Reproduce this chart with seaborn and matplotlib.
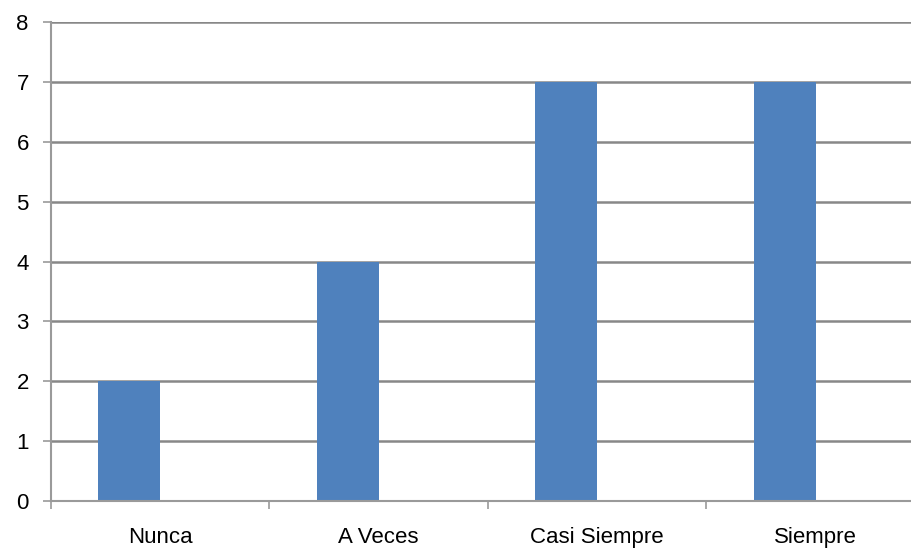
import matplotlib
matplotlib.use("Agg")
import matplotlib.pyplot as plt
import seaborn as sns
import pandas as pd
import numpy as np

categories = ["Nunca", "A Veces", "Casi Siempre", "Siempre"]
values = [2, 4, 7, 7]
series = ["Serie1", "Serie2"]
y_ticks = [0, 1, 2, 3, 4, 5, 6, 7, 8]

df = pd.DataFrame({
    "cat": categories * 2,
    "val": values + [np.nan] * len(categories),
    "serie": [series[0]] * len(categories) + [series[1]] * len(categories),
})

sns.set_style("white")
plt.rcParams["font.family"] = ["Liberation Sans", "DejaVu Sans"]

fig = plt.figure(figsize=(9.12, 5.49), dpi=100)
ax = fig.add_axes([51 / 912, 48 / 549, 874 / 912, 479 / 549])

sns.barplot(data=df, x="cat", y="val", hue="serie", order=categories,
            hue_order=series, palette=["#4F81BD", "#C0504D"], width=0.568,
            saturation=1, ax=ax, legend=False, errorbar=None, linewidth=0)

ax.set_ylim(0, 8)
ax.set_xlim(-0.5, len(categories) - 0.5)
ax.set_yticks(y_ticks)
ax.yaxis.grid(True, color="#888888", linewidth=1.8)
ax.set_axisbelow(True)
ax.set_xlabel("")
ax.set_ylabel("")

for s in ["top", "right"]:
    ax.spines[s].set_visible(False)
ax.spines["left"].set_color("#9a9a9a")
ax.spines["left"].set_linewidth(1.5)
ax.spines["bottom"].set_color("#9a9a9a")
ax.spines["bottom"].set_linewidth(1.5)

ax.tick_params(axis="y", which="major", length=6, width=1.2, color="#9a9a9a",
               direction="out", labelsize=16, pad=10, left=True)
ax.set_xticks(np.arange(len(categories)))
ax.set_xticklabels(categories)
ax.set_xticks(np.arange(len(categories) + 1) - 0.5, minor=True)
ax.tick_params(axis="x", which="major", length=0, labelsize=16, pad=19)
ax.tick_params(axis="x", which="minor", length=6, width=1.2, color="#9a9a9a",
               direction="out", bottom=True)
for lab in ax.get_yticklabels() + ax.get_xticklabels():
    lab.set_color("black")

fig.savefig("out.png", dpi=100)
